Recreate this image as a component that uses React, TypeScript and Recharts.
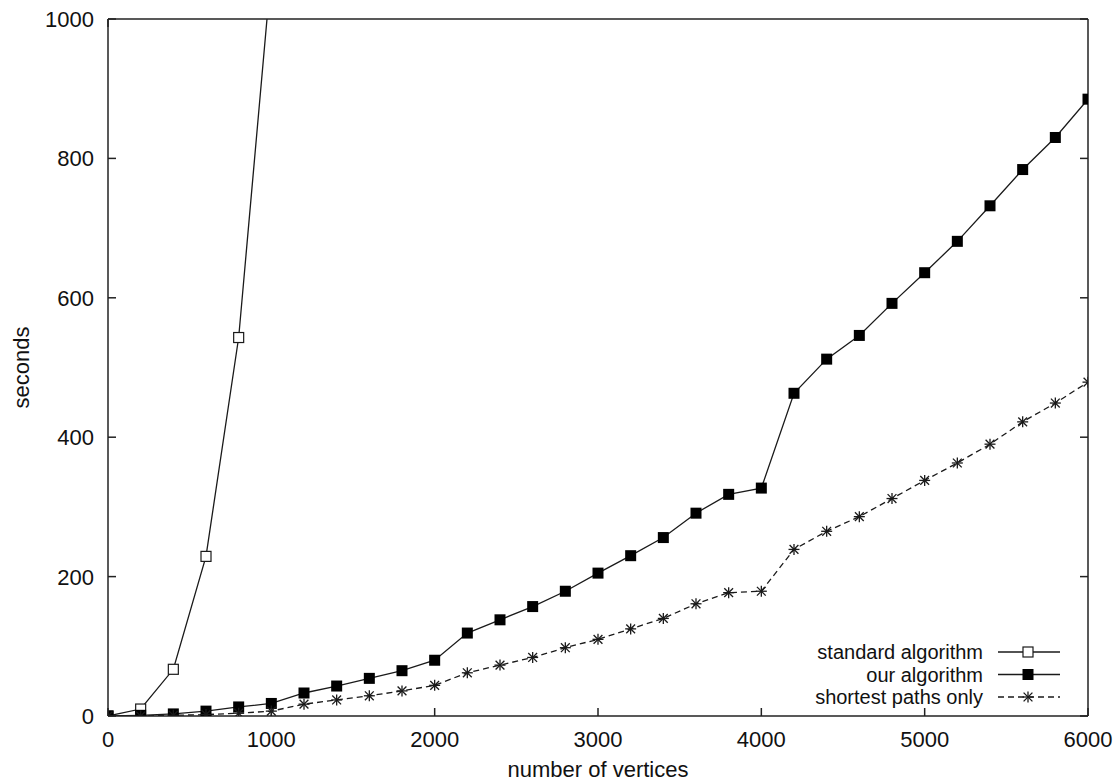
import React from 'react';
import { LineChart, Line, XAxis, YAxis, Legend } from 'recharts';

const VERTICES = [
  0, 200, 400, 600, 800, 1000, 1200, 1400, 1600, 1800, 2000, 2200, 2400, 2600, 2800, 3000,
  3200, 3400, 3600, 3800, 4000, 4200, 4400, 4600, 4800, 5000, 5200, 5400, 5600, 5800, 6000,
];
const STANDARD = [0, 10, 67, 229, 543, 1070];
const OURS = [
  0, 1, 3, 7, 13, 18, 33, 43, 54, 65, 80, 119, 138, 157, 179, 205,
  230, 256, 291, 318, 327, 463, 512, 546, 592, 636, 681, 732, 784, 830, 885,
];
const SHORTEST = [
  0, 0, 1, 2, 4, 7, 17, 23, 29, 36, 44, 62, 73, 84, 98, 110,
  125, 140, 161, 177, 179, 239, 265, 286, 312, 338, 363, 390, 422, 449, 479,
];
const X_TICKS = [0, 1000, 2000, 3000, 4000, 5000, 6000];
const Y_TICKS = [0, 200, 400, 600, 800, 1000];

const SERIES = [
  { key: 'standard', label: 'standard algorithm', marker: 'open', dash: undefined },
  { key: 'ours', label: 'our algorithm', marker: 'filled', dash: undefined },
  { key: 'shortest', label: 'shortest paths only', marker: 'star', dash: '6 4' },
] as const;

const data = VERTICES.map((v, i) => ({
  n: v,
  standard: i < STANDARD.length ? STANDARD[i] : null,
  ours: OURS[i],
  shortest: SHORTEST[i],
}));

const FONT = '"Liberation Sans", Arial, Helvetica, sans-serif';
const INK = '#1a1a1a';
const AXIS = '#222';
const FS = 22;
const LEGEND_FS = 20;
const TICK_LEN = 8;
const X_GAP = 16;
const Y_GAP = 14;

// gnuplot style: ticks point into the plot, labels sit outside
function BottomTick({ x, y, payload }: any) {
  const base = y - X_GAP;
  return (
    <g>
      <line x1={x} x2={x} y1={base} y2={base - TICK_LEN} stroke={AXIS} strokeWidth={1.5} />
      <text x={x} y={y + 15} textAnchor="middle" fontSize={FS} fontFamily={FONT} fill="#111">
        {payload.value}
      </text>
    </g>
  );
}

function LeftTick({ x, y, payload }: any) {
  const base = x + Y_GAP;
  return (
    <g>
      <line x1={base} x2={base + TICK_LEN} y1={y} y2={y} stroke={AXIS} strokeWidth={1.5} />
      <text x={x} y={y + 8} textAnchor="end" fontSize={FS} fontFamily={FONT} fill="#111">
        {payload.value}
      </text>
    </g>
  );
}

function TopTick({ x, y }: any) {
  return <line x1={x} x2={x} y1={y} y2={y + TICK_LEN} stroke={AXIS} strokeWidth={1.5} />;
}

function RightTick({ x, y }: any) {
  return <line x1={x} x2={x - TICK_LEN} y1={y} y2={y} stroke={AXIS} strokeWidth={1.5} />;
}

function Marker({ type, cx, cy }: { type: string; cx: number; cy: number }) {
  if (type === 'open') {
    return <rect x={cx - 5} y={cy - 5} width={10} height={10} fill="#fff" stroke={INK} strokeWidth={1.2} />;
  }
  if (type === 'filled') {
    return <rect x={cx - 5.5} y={cy - 5.5} width={11} height={11} fill="#000" />;
  }
  const r = 5.5;
  return (
    <g stroke={INK} strokeWidth={1.3}>
      <line x1={cx - r} y1={cy} x2={cx + r} y2={cy} />
      <line x1={cx} y1={cy - r} x2={cx} y2={cy + r} />
      <line x1={cx - r * 0.8} y1={cy - r * 0.8} x2={cx + r * 0.8} y2={cy + r * 0.8} />
      <line x1={cx - r * 0.8} y1={cy + r * 0.8} x2={cx + r * 0.8} y2={cy - r * 0.8} />
    </g>
  );
}

const makeDot = (type: string, key: string) => (props: any) => {
  const { cx, cy, index } = props;
  if (cx == null || cy == null || Number.isNaN(cy)) return <g key={`${key}-${index}`} />;
  return (
    <g key={`${key}-${index}`}>
      <Marker type={type} cx={cx} cy={cy} />
    </g>
  );
};

function LegendBox() {
  return (
    <svg width={300} height={75} style={{ overflow: 'visible' }}>
      {SERIES.map((s, i) => {
        const y = 12 + i * 22.5;
        return (
          <g key={s.key}>
            <text x={203} y={y + 7} textAnchor="end" fontSize={LEGEND_FS} fontFamily={FONT} fill="#111">
              {s.label}
            </text>
            <line x1={218} x2={280} y1={y} y2={y} stroke={INK} strokeWidth={1.3} strokeDasharray={s.dash} />
            <Marker type={s.marker} cx={248} cy={y} />
          </g>
        );
      })}
    </svg>
  );
}

export default function App() {
  return (
    <div style={{ position: 'absolute', left: 0, top: 0, width: 1115, height: 782, background: '#fff' }}>
      <LineChart width={1115} height={782} data={data} margin={{ top: 18, right: 26, left: 0, bottom: 0 }}>
        <XAxis
          dataKey="n"
          type="number"
          domain={[0, 6000]}
          ticks={X_TICKS}
          interval={0}
          allowDataOverflow
          height={66}
          tickSize={0}
          tickMargin={X_GAP}
          tickLine={false}
          tick={<BottomTick />}
          stroke={AXIS}
          strokeWidth={1.5}
          label={{
            content: ({ viewBox }: any) => (
              <text
                x={viewBox.x + viewBox.width / 2}
                y={viewBox.y + 61}
                textAnchor="middle"
                fontSize={FS}
                fontFamily={FONT}
                fill="#111"
              >
                number of vertices
              </text>
            ),
          }}
        />
        <XAxis
          xAxisId="top"
          orientation="top"
          type="number"
          domain={[0, 6000]}
          ticks={X_TICKS}
          interval={0}
          allowDataOverflow
          height={1}
          tickSize={0}
          tickMargin={0}
          tickLine={false}
          tick={<TopTick />}
          stroke={AXIS}
          strokeWidth={1.5}
        />
        <YAxis
          type="number"
          domain={[0, 1000]}
          ticks={Y_TICKS}
          interval={0}
          allowDataOverflow
          width={108}
          tickSize={0}
          tickMargin={Y_GAP}
          tickLine={false}
          tick={<LeftTick />}
          stroke={AXIS}
          strokeWidth={1.5}
          label={{
            content: ({ viewBox }: any) => {
              const x = 29;
              const y = viewBox.y + viewBox.height / 2;
              return (
                <text
                  x={x}
                  y={y}
                  transform={`rotate(-90 ${x} ${y})`}
                  textAnchor="middle"
                  fontSize={FS}
                  fontFamily={FONT}
                  fill="#111"
                >
                  seconds
                </text>
              );
            },
          }}
        />
        <YAxis
          yAxisId="right"
          orientation="right"
          type="number"
          domain={[0, 1000]}
          ticks={Y_TICKS}
          interval={0}
          allowDataOverflow
          width={1}
          tickSize={0}
          tickMargin={0}
          tickLine={false}
          tick={<RightTick />}
          stroke={AXIS}
          strokeWidth={1.5}
        />
        <Legend
          layout="vertical"
          align="center"
          verticalAlign="middle"
          content={() => <LegendBox />}
          wrapperStyle={{ position: 'absolute', left: 780, top: 640, width: 300, height: 75 }}
        />
        {SERIES.map((s) => (
          <Line
            key={s.key}
            dataKey={s.key}
            name={s.label}
            type="linear"
            stroke={INK}
            strokeWidth={1.3}
            strokeDasharray={s.dash}
            dot={makeDot(s.marker, s.key)}
            activeDot={false}
            connectNulls={false}
            isAnimationActive={false}
          />
        ))}
      </LineChart>
    </div>
  );
}
